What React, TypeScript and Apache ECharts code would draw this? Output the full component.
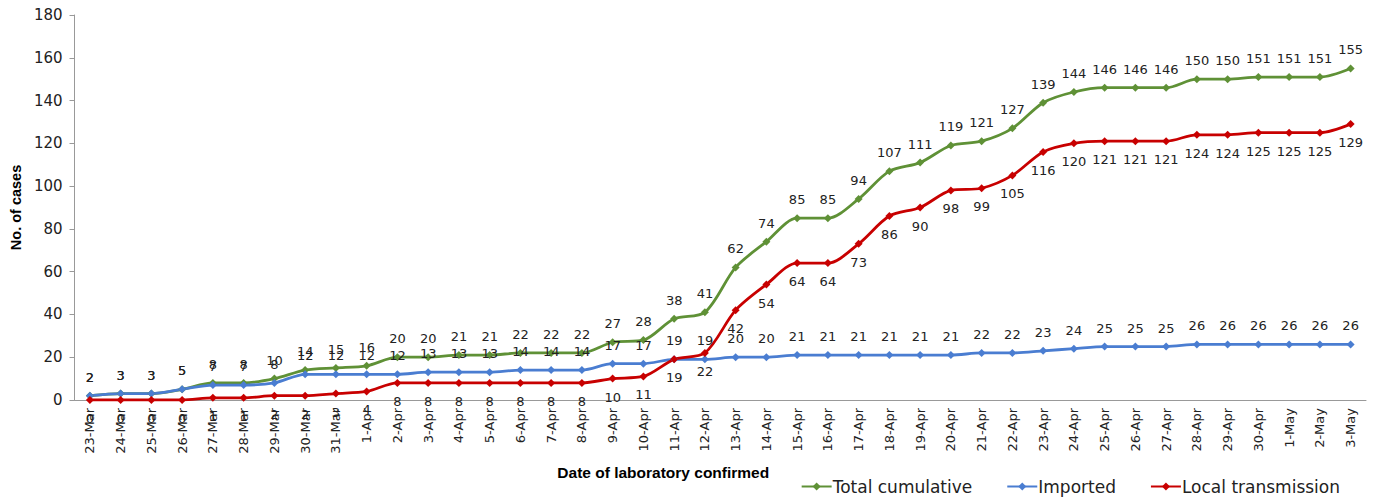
import React, { useEffect, useRef } from "react";
import * as echarts from "echarts";

const dates = [
  "23-Mar","24-Mar","25-Mar","26-Mar","27-Mar","28-Mar","29-Mar","30-Mar","31-Mar",
  "1-Apr","2-Apr","3-Apr","4-Apr","5-Apr","6-Apr","7-Apr","8-Apr","9-Apr","10-Apr",
  "11-Apr","12-Apr","13-Apr","14-Apr","15-Apr","16-Apr","17-Apr","18-Apr","19-Apr",
  "20-Apr","21-Apr","22-Apr","23-Apr","24-Apr","25-Apr","26-Apr","27-Apr","28-Apr",
  "29-Apr","30-Apr","1-May","2-May","3-May",
];
const totalCumulative = [
  2,3,3,5,8,8,10,14,15,
  16,20,20,21,21,22,22,22,27,28,38,41,62,74,85,85,94,107,111,119,121,127,139,144,146,146,146,150,150,151,
  151,151,155,
];
const imported = [
  2,3,3,5,7,7,8,12,12,
  12,12,13,13,13,14,14,14,17,17,19,19,20,20,21,21,21,21,21,21,22,22,23,24,25,25,25,26,26,26,
  26,26,26,
];
const localTransmission = [
  0,0,0,0,1,1,2,2,3,
  4,8,8,8,8,8,8,8,10,11,19,22,42,54,64,64,73,86,90,98,99,105,116,120,121,121,121,124,124,125,
  125,125,129,
];
const yTicks = [0, 180, 20];

const GREEN = "#5F9136";
const BLUE = "#4A7DD1";
const RED = "#C80000";
const FONT = "DejaVu Sans";

export default function App() {
  const ref = useRef<HTMLDivElement>(null);
  useEffect(() => {
    document.body.style.margin = "0";
    if (!ref.current) return;
    const chart = echarts.init(ref.current, undefined, { renderer: "svg" });
    const mk = (name: string, data: number[], color: string, pos: "top" | "bottom") => ({
      name,
      type: "line",
      data,
      smooth: 0.3,
      symbol: "diamond",
      symbolSize: 8,
      lineStyle: { color, width: 2.8 },
      itemStyle: { color },
      label: {
        show: true,
        position: pos,
        distance: 8,
        color: "#222",
        fontFamily: FONT,
        fontSize: 13,
      },
    });
    chart.setOption({
      animation: false,
      backgroundColor: "#fff",
      grid: { left: 72, right: 12, top: 15, bottom: 97 },
      legend: {
        right: 33,
        top: 473,
        itemWidth: 30,
        itemHeight: 10,
        itemGap: 34,
        textStyle: { fontFamily: FONT, fontSize: 17, color: "#222", padding: [0, 0, 0, -4] },
        data: ["Total cumulative", "Imported", "Local transmission"],
      },
      xAxis: {
        type: "category",
        data: dates,
        boundaryGap: true,
        name: "Date of laboratory confirmed",
        nameLocation: "middle",
        nameGap: 64,
        nameTextStyle: {
          fontFamily: "Liberation Sans",
          fontWeight: "bold",
          fontSize: 15.5,
          color: "#000",
          padding: [0, 114, 0, 0],
        },
        axisLine: { lineStyle: { color: "#999" } },
        axisTick: { show: false },
        axisLabel: {
          rotate: 90,
          interval: 0,
          fontFamily: FONT,
          fontSize: 13,
          color: "#222",
          margin: 8,
        },
      },
      yAxis: {
        type: "value",
        min: yTicks[0],
        max: yTicks[1],
        interval: yTicks[2],
        name: "No. of cases",
        nameLocation: "middle",
        nameGap: 46,
        nameTextStyle: { fontFamily: "Liberation Sans", fontWeight: "bold", fontSize: 14.5, color: "#000" },
        axisLine: { show: true, lineStyle: { color: "#999" } },
        axisTick: { show: true, length: 5, lineStyle: { color: "#999" } },
        splitLine: { show: false },
        axisLabel: { fontFamily: FONT, fontSize: 15, color: "#222", margin: 12 },
      },
      series: [
        mk("Total cumulative", totalCumulative, GREEN, "top"),
        mk("Imported", imported, BLUE, "top"),
        mk("Local transmission", localTransmission, RED, "bottom"),
      ],
    });
    return () => chart.dispose();
  }, []);
  return <div ref={ref} style={{ width: 1378, height: 497 }} />;
}
